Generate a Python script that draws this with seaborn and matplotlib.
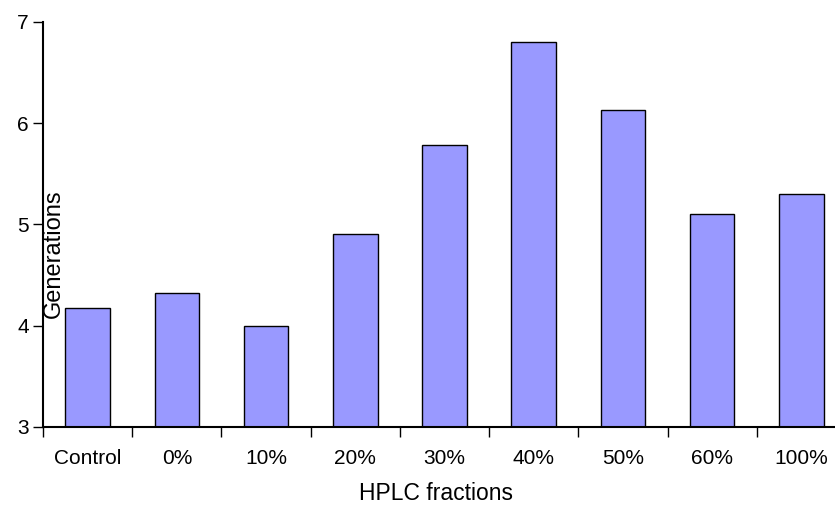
import numpy as np
import pandas as pd
import seaborn as sns
import matplotlib.pyplot as plt

# data
fractions = ["Control", "0%", "10%", "20%", "30%", "40%", "50%", "60%", "100%"]
generations = [4.17, 4.32, 4.00, 4.90, 5.78, 6.80, 6.13, 5.10, 5.30]

df = pd.DataFrame({"HPLC fractions": fractions, "Generations": generations})

sns.set_theme(style="ticks")
plt.rcParams["font.family"] = ["Liberation Sans", "DejaVu Sans"]

fig = plt.figure(figsize=(8.35, 5.07), dpi=100)
# axes runs slightly past the right edge, like the original
ax = fig.add_axes([43 / 835, (507 - 426.7) / 507, 803 / 835, 404.7 / 507])

sns.barplot(data=df, x="HPLC fractions", y="Generations", color="#9999FF",
            saturation=1, width=0.5, edgecolor="black", linewidth=1.0, ax=ax)

ax.set_ylim(3, 7)
ax.set_xlim(-0.5, len(fractions) - 0.5)
ax.set_yticks([3, 4, 5, 6, 7])

# labels at bar centres, tick marks at category boundaries
ax.set_xticks(np.arange(len(fractions)))
ax.set_xticklabels(fractions)
ax.set_xticks(np.arange(len(fractions) + 1) - 0.5, minor=True)
ax.tick_params(axis="x", which="major", length=0, pad=16, labelsize=15, colors="black")
ax.tick_params(axis="x", which="minor", length=7.5, width=1, direction="out", color="black")
ax.tick_params(axis="y", length=7.2, width=1, pad=3, labelsize=15, colors="black")

for side in ["top", "right"]:
    ax.spines[side].set_visible(False)
for side in ["left", "bottom"]:
    ax.spines[side].set_linewidth(1.5)
    ax.spines[side].set_color("black")

ax.set_xlabel("HPLC fractions", fontsize=16.5, color="black")
ax.set_ylabel("Generations", fontsize=17, color="black")
ax.xaxis.set_label_coords(0.49, -0.137)
ax.yaxis.set_label_coords(0.027, 0.427)

fig.savefig("out.png", dpi=100)
